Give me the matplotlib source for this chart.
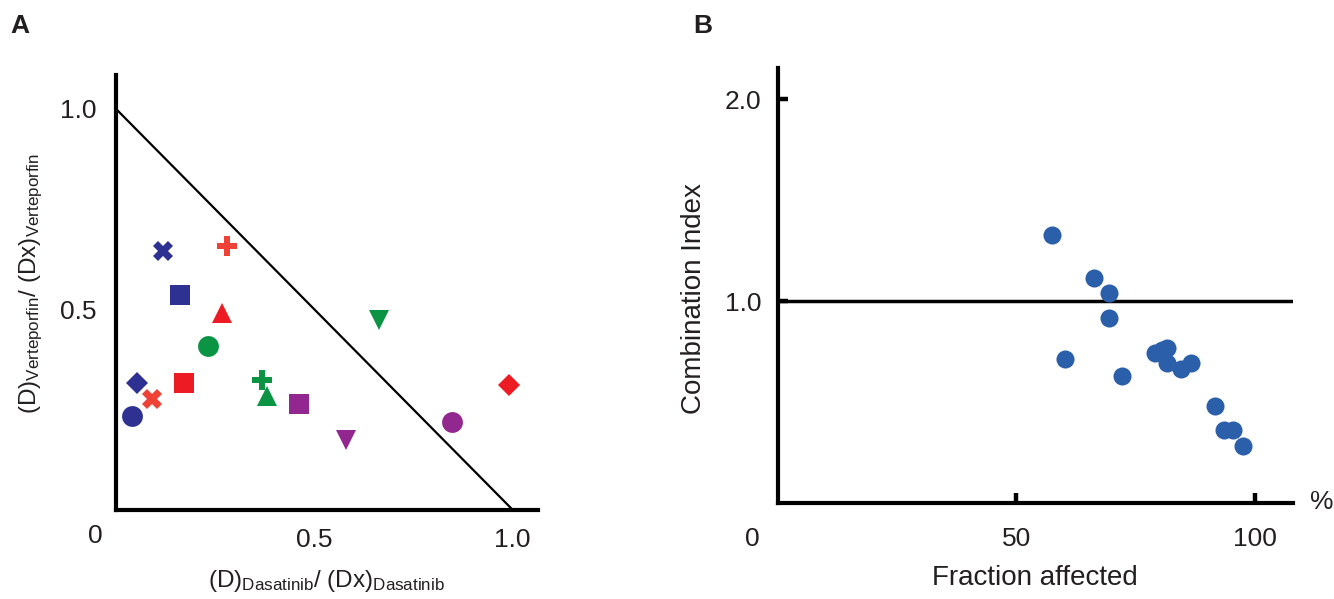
import matplotlib.pyplot as plt
import numpy as np

plt.rcParams['font.family'] = ['Liberation Sans', 'DejaVu Sans']
plt.rcParams['mathtext.default'] = 'regular'

# Panel A: isobologram points (normalised doses)
iso_x = [0.119, 0.279, 0.160, 0.268, 0.231, 0.663, 0.052, 0.090,
         0.171, 0.369, 0.380, 0.461, 0.040, 0.580, 0.847, 0.991]
iso_y = [0.645, 0.659, 0.537, 0.491, 0.409, 0.474, 0.317, 0.276,
         0.317, 0.323, 0.285, 0.264, 0.235, 0.175, 0.218, 0.311]
iso_marker = ['X', 'P', 's', '^', 'o', 'v', 'D', 'X',
              's', 'P', '^', 's', 'o', 'v', 'o', 'D']
iso_color = ['#2e3192', '#ef4136', '#2e3192', '#ed1c24', '#0a9444', '#0a9444', '#2e3192', '#ef4136',
             '#ed1c24', '#0a9444', '#0a9444', '#92278f', '#2e3192', '#92278f', '#92278f', '#ed1c24']

# Panel B: combination index vs fraction affected
fa = [57.5, 66.3, 69.4, 69.4, 60.3, 72.3, 79.1, 80.5,
      81.7, 81.7, 84.6, 86.6, 91.8, 93.5, 95.5, 97.5]
ci = [1.326, 1.113, 1.042, 0.919, 0.715, 0.632, 0.745, 0.758,
      0.768, 0.692, 0.664, 0.694, 0.479, 0.364, 0.364, 0.283]

txt = '#231f20'
fs = 19
lfs = 20

fig = plt.figure(figsize=(13.34, 5.99), dpi=100)

# ---- A ----
ax = fig.add_axes([0.087, 0.149, 0.316, 0.726])
ax.plot([0, 1], [1, 0], color='k', lw=1.6)
sizes = {'X': 15, 'P': 14, 's': 14, '^': 14, 'o': 15, 'v': 14, 'D': 11.5}
for x, y, m, c in zip(iso_x, iso_y, iso_marker, iso_color):
    ax.plot(x, y, marker=m, color=c, ms=sizes[m], mew=0, ls='none')
ax.set_xlim(0, 1.063)
ax.set_ylim(0, 1.085)
for s in ['top', 'right']:
    ax.spines[s].set_visible(False)
for s in ['left', 'bottom']:
    ax.spines[s].set_linewidth(3)
ax.set_xticks([0.5, 1.0])
ax.set_xticklabels(['0.5', '1.0'])
ax.set_yticks([0.5, 1.0])
ax.set_yticklabels(['0.5', '1.0'])
ax.tick_params(length=0, labelsize=fs, labelcolor=txt)
ax.tick_params(axis='x', pad=13)
ax.tick_params(axis='y', pad=14)
ax.annotate('0', xy=(0, 0), xytext=(-15, -19), textcoords='offset points',
            ha='center', va='center', fontsize=fs, color=txt)
ax.set_xlabel('(D)$_{Dasatinib}$/ (Dx)$_{Dasatinib}$', fontsize=17.5, color=txt, labelpad=12)
ax.set_ylabel('(D)$_{Verteporfin}$/ (Dx)$_{Verteporfin}$', fontsize=17.5, color=txt)
ax.yaxis.set_label_coords(-0.168, 0.52)
fig.text(0.008, 0.957, 'A', fontsize=19, fontweight='bold', color=txt, va='center')

# ---- B ----
bx = fig.add_axes([0.583, 0.160, 0.386, 0.726])
bx.axhline(1.0, color='k', lw=2.5)
bx.plot(fa, ci, 'o', color='#2c5faa', ms=13, mew=0)
bx.set_xlim(0, 108)
bx.set_ylim(0, 2.153)
for s in ['top', 'right']:
    bx.spines[s].set_visible(False)
for s in ['left', 'bottom']:
    bx.spines[s].set_linewidth(3)
bx.set_xticks([50, 100])
bx.set_yticks([1.0, 2.0])
bx.set_yticklabels(['1.0', '2.0'])
bx.tick_params(direction='in', length=7, width=3.2, labelsize=fs, labelcolor=txt)
bx.tick_params(axis='x', pad=17)
bx.tick_params(axis='y', pad=12)
bx.annotate('0', xy=(0, 0), xytext=(-18, -26), textcoords='offset points',
            ha='center', va='center', fontsize=fs, color=txt)
bx.annotate('%', xy=(108, 0), xytext=(21, 1), textcoords='offset points',
            ha='center', va='center', fontsize=fs, color=txt)
bx.set_xlabel('Fraction affected', fontsize=lfs, color=txt, labelpad=10)
bx.set_ylabel('Combination Index', fontsize=lfs, color=txt)
bx.yaxis.set_label_coords(-0.138, 0.47)
fig.text(0.520, 0.957, 'B', fontsize=19, fontweight='bold', color=txt, va='center')

fig.savefig('out.png', dpi=100)
